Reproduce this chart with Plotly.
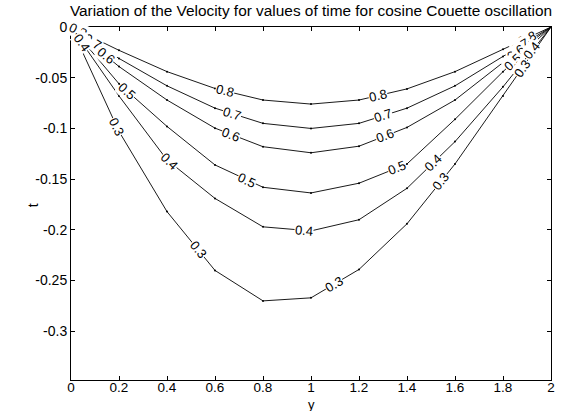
import numpy as np
import plotly.graph_objects as go

# ---------------- data ----------------
y_grid = [0, 0.2, 0.4, 0.6, 0.8, 1.0, 1.2, 1.4, 1.6, 1.8, 2.0]
levels = [0.8, 0.7, 0.6, 0.5, 0.4, 0.3]
t_08 = [0, -0.023, -0.044, -0.0606, -0.072, -0.076, -0.072, -0.061, -0.044, -0.022, 0]
t_07 = [0, -0.031, -0.058, -0.080, -0.095, -0.100, -0.095, -0.080, -0.058, -0.029, 0]
t_06 = [0, -0.039, -0.072, -0.0997, -0.118, -0.124, -0.1175, -0.099, -0.072, -0.035, 0]
t_05 = [0, -0.056, -0.098, -0.136, -0.158, -0.1636, -0.154, -0.135, -0.091, -0.044, 0]
t_04 = [0, -0.068, -0.131, -0.169, -0.197, -0.201, -0.190, -0.159, -0.113, -0.059, 0]
t_03 = [0, -0.103, -0.182, -0.240, -0.270, -0.267, -0.239, -0.194, -0.135, -0.068, 0]
series = [t_08, t_07, t_06, t_05, t_04, t_03]

# where along y each contour label sits
label_y_08 = [0.03, 0.64, 1.28, 1.90]
label_y_07 = [0.09, 0.67, 1.30, 1.87]
label_y_06 = [0.145, 0.665, 1.31, 1.855]
label_y_05 = [0.05, 0.235, 0.735, 1.36, 1.84]
label_y_04 = [0.045, 0.41, 0.97, 1.51, 1.92]
label_y_03 = [0.19, 0.53, 1.095, 1.54, 1.88]
label_pos = [label_y_08, label_y_07, label_y_06, label_y_05, label_y_04, label_y_03]

x_ticks = [0, 0.2, 0.4, 0.6, 0.8, 1, 1.2, 1.4, 1.6, 1.8, 2]
x_ticktext = ["0", "0.2", "0.4", "0.6", "0.8", "1", "1.2", "1.4", "1.6", "1.8", "2"]
y_ticks = [0, -0.05, -0.1, -0.15, -0.2, -0.25, -0.3]
y_ticktext = ["0", "-0.05", "-0.1", "-0.15", "-0.2", "-0.25", "-0.3"]

title = "Variation of the Velocity for values of time for cosine Couette oscillation"
x_title = "y"
y_title = "t"

# ---------------- layout constants ----------------
W, H = 561, 411
ML, MR, MT, MB = 71, 6, 27, 31
XR = [0, 2]
YR = [-0.348, 0]
PW = W - ML - MR
PH = H - MT - MB
px_per_x = PW / (XR[1] - XR[0])
px_per_y = PH / (YR[1] - YR[0])
FONT = "Liberation Sans, Arial, sans-serif"

fig = go.Figure()
for lev, ts in zip(levels, series):
    fig.add_trace(go.Scatter(x=y_grid, y=ts, mode="lines+markers",
                             line=dict(color="black", width=0.9),
                             marker=dict(color="black", size=2),
                             showlegend=False, hoverinfo="skip"))
# invisible trace to carry the tick-label axis
fig.add_trace(go.Scatter(x=XR, y=[YR[0], YR[0]], xaxis="x2", mode="none",
                         showlegend=False, hoverinfo="skip"))

annotations = []
for lev, ts, xs in zip(levels, series, label_pos):
    for xl in xs:
        yl = float(np.interp(xl, y_grid, ts))
        d = 0.03
        y1 = float(np.interp(max(xl - d, 0), y_grid, ts))
        y2 = float(np.interp(min(xl + d, 2), y_grid, ts))
        dxp = (min(xl + d, 2) - max(xl - d, 0)) * px_per_x
        dyp = -(y2 - y1) * px_per_y
        ang = float(np.degrees(np.arctan2(dyp, dxp)))
        annotations.append(dict(x=xl, y=yl, xref="x", yref="y", text=f"{lev:g}",
                                showarrow=False, textangle=ang,
                                font=dict(family=FONT, size=13, color="black"),
                                bgcolor="white", borderpad=0))

# axis titles
annotations.append(dict(text=x_title, xref="paper", yref="paper", x=0.5,
                        y=-(404.5 - (H - MB)) / PH, showarrow=False,
                        xanchor="center", yanchor="middle",
                        font=dict(family=FONT, size=13, color="black")))
annotations.append(dict(text=y_title, xref="paper", yref="paper",
                        x=-(ML - 33) / PW, y=1 - (205 - MT) / PH,
                        showarrow=False, textangle=-90,
                        xanchor="center", yanchor="middle",
                        font=dict(family=FONT, size=14, color="black")))

fig.update_layout(
    width=W, height=H,
    margin=dict(l=ML, r=MR, t=MT, b=MB),
    paper_bgcolor="white", plot_bgcolor="white",
    font=dict(family=FONT, size=14, color="black"),
    title=dict(text=title, x=0.5, xref="paper", y=1 - 11 / H, yref="container",
               yanchor="middle", font=dict(family=FONT, size=15.4, color="black")),
    annotations=annotations,
    xaxis2=dict(overlaying="x", matches="x", anchor="free", position=3 / PH,
                side="bottom", range=XR, tickvals=x_ticks, ticktext=x_ticktext,
                ticks="", showline=False, showgrid=False, zeroline=False,
                tickfont=dict(family=FONT, size=13.5, color="black")),
)
fig.update_xaxes(selector=dict(), overwrite=False)
fig.layout.xaxis.update(range=XR, tickvals=x_ticks, showticklabels=False,
                        ticks="inside", ticklen=4, tickcolor="black",
                        showline=True, linecolor="black", linewidth=1, mirror="ticks",
                        showgrid=False, zeroline=False)
fig.update_yaxes(range=YR, tickvals=y_ticks, ticktext=y_ticktext,
                 ticks="inside", ticklen=4, tickcolor="black",
                 showline=True, linecolor="black", linewidth=1, mirror="ticks",
                 showgrid=False, zeroline=False, tickfont=dict(size=14))

fig.write_html("out.html")
